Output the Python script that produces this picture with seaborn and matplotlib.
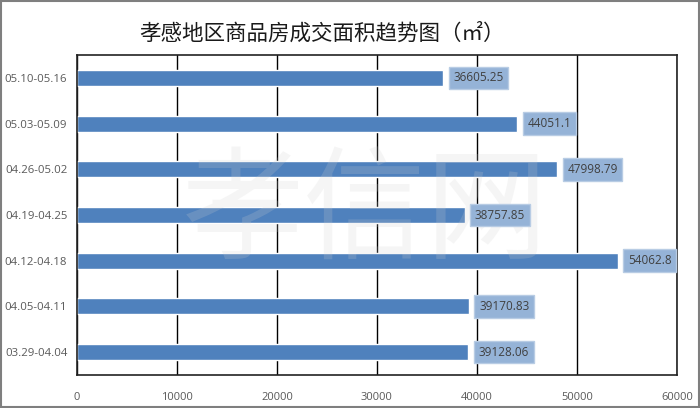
import pandas as pd
import matplotlib
matplotlib.use('Agg')
import matplotlib.pyplot as plt
import seaborn as sns

# weekly transaction area (m²), top to bottom as shown
weeks = ['05.10-05.16', '05.03-05.09', '04.26-05.02', '04.19-04.25',
         '04.12-04.18', '04.05-04.11', '03.29-04.04']
area = [36605.25, 44051.1, 47998.79, 38757.85, 54062.8, 39170.83, 39128.06]
x_ticks = [0, 10000, 20000, 30000, 40000, 50000, 60000]
title = '孝感地区商品房成交面积趋势图（㎡）'

sns.set_style('white')
plt.rcParams['font.family'] = ['Noto Sans CJK SC', 'DejaVu Sans']
num_font = ['Open Sans', 'DejaVu Sans']

df = pd.DataFrame({'week': weeks, 'area': area})

fig = plt.figure(figsize=(7, 4.08), dpi=100)
ax = fig.add_axes([0.11, 0.081, 0.857, 0.784])

sns.barplot(data=df, y='week', x='area', orient='h', color='#4F81BD',
            saturation=1, width=0.35, ax=ax)

ax.set_xlim(0, 60000)
ax.set_xticks(x_ticks)
ax.set_xticklabels([str(t) for t in x_ticks], color='#595959', fontsize=8,
                   family=num_font)
ax.set_yticks(range(len(weeks)))
ax.set_yticklabels(weeks, color='#595959', fontsize=8.2, family=num_font)
ax.tick_params(axis='x', length=0, pad=12)
ax.tick_params(axis='y', length=0, pad=7)
ax.set_xlabel('')
ax.set_ylabel('')
ax.grid(axis='x', color='black', linewidth=1)
ax.set_axisbelow(True)
for side in ['top', 'bottom', 'left', 'right']:
    ax.spines[side].set_visible(True)
    ax.spines[side].set_color('#222222')
    ax.spines[side].set_linewidth(1.2)

# faint watermark
ax.text(0.48, 0.5, '孝信网', transform=ax.transAxes, ha='center', va='center',
        fontsize=88, fontweight='light', color='#D0D0D0', alpha=0.2, zorder=4)

# value labels in light blue boxes
for i, v in enumerate(area):
    ax.annotate(str(v), xy=(v, i), xytext=(7.5, 0), textcoords='offset points',
                va='center', ha='left', fontsize=8.5, color='#404040', family=num_font,
                zorder=6,
                bbox=dict(boxstyle='square,pad=0.4', fc='#95B3D7', ec='#B8CCE4', lw=1))

fig.text(0.46, 0.918, title, ha='center', va='center', fontsize=15.5, color='#1a1a1a')

# outer frame
fig.patches.append(plt.Rectangle((0.002, 0.002), 0.996, 0.996, transform=fig.transFigure,
                                 fill=False, ec='#7F7F7F', lw=1.5))

fig.savefig('out.png', dpi=100)
